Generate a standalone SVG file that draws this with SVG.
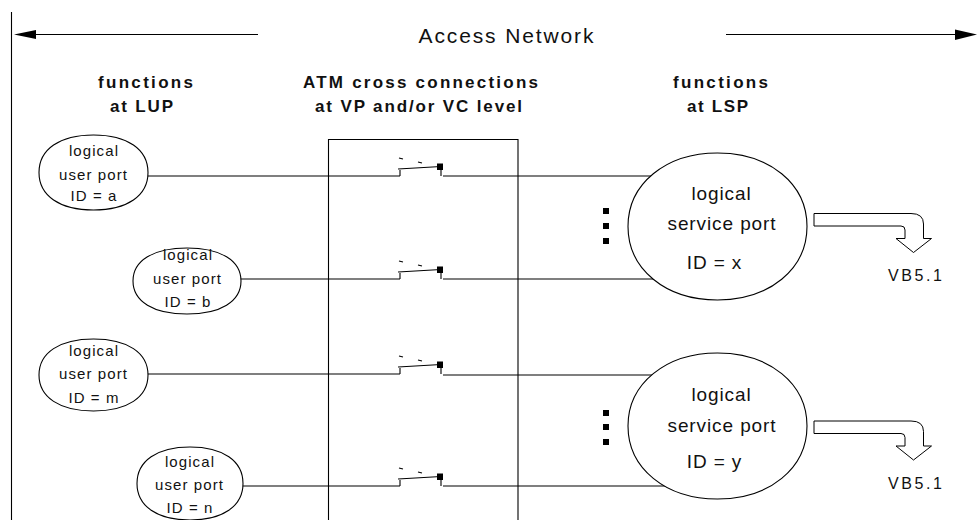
<svg xmlns="http://www.w3.org/2000/svg" xmlns:xlink="http://www.w3.org/1999/xlink" width="978" height="520" viewBox="0 0 978 520">
<style>
  .ln{stroke:#000;stroke-width:1.1;fill:none}
  .nd{fill:#fff;stroke:#000;stroke-width:1.1}
  .t{font-family:"Liberation Sans",Arial,sans-serif;fill:#111;text-anchor:middle}
  .hdr{font-weight:bold;font-size:17px}
  .up{font-size:15px;letter-spacing:1.1px}
  .sp{font-size:19px;letter-spacing:0.9px}
  .big{font-size:21px}
  .vb{font-size:16px}
  .arr{fill:#fff;stroke:#000;stroke-width:1}
</style>
<defs>
  <g id="sw">
    <path class="ln" d="M0,0 V-6 M-2,-7 L41,-9.5 M41,-6 V0" stroke-width="1.2"/>
    <rect x="37" y="-12.5" width="6" height="6.5" fill="#000"/>
    <path class="ln" d="M-1,-18 l4,1 M18,-14 l4,1" stroke-width="1"/>
  </g>
  <path id="hollow" d="M814,213.5 H911 Q923.5,213.5 923.5,224 V238.5 H931.5 L913.5,252.5 L896,238.5 H905 V230 Q905,226 901,226 H814 Z"/>
</defs>

<g id="frame">
  <line class="ln" x1="11.5" y1="12" x2="11.5" y2="520"/>
  <line class="ln" x1="30" y1="34.5" x2="258" y2="34.5"/>
  <polygon points="14,34.5 36,30 36,39" fill="#000"/>
  <line class="ln" x1="726" y1="34.5" x2="958" y2="34.5"/>
  <polygon points="977,34.5 955,29.5 955,40" fill="#000"/>
  <text class="t big" x="506" y="43" textLength="175" lengthAdjust="spacing">Access Network</text>
  <text class="t hdr" x="145.5" y="88" textLength="95" lengthAdjust="spacing">functions</text>
  <text class="t hdr" x="141.5" y="112" textLength="63" lengthAdjust="spacing">at LUP</text>
  <text class="t hdr" x="420.5" y="88" textLength="235" lengthAdjust="spacing">ATM cross connections</text>
  <text class="t hdr" x="418.5" y="112" textLength="207" lengthAdjust="spacing">at VP and/or VC level</text>
  <text class="t hdr" x="720.5" y="88" textLength="95" lengthAdjust="spacing">functions</text>
  <text class="t hdr" x="717.5" y="112" textLength="61" lengthAdjust="spacing">at LSP</text>
</g>

<g id="atm-box">
  <path class="ln" d="M328.5,521 V139.5 H518 V521"/>
</g>

<g id="connectors">
  <path class="ln" d="M120,176 H400 M210,279 H400 M120,374 H400 M215,486 H400"/>
  <path class="ln" d="M443,176 H700 M443,279 H700 M443,375 H700 M443,486 H700"/>
</g>

<g id="switches">
  <use xlink:href="#sw" href="#sw" transform="translate(400,176)"/>
  <use xlink:href="#sw" href="#sw" transform="translate(400,279)"/>
  <use xlink:href="#sw" href="#sw" transform="translate(400,374)"/>
  <use xlink:href="#sw" href="#sw" transform="translate(400,486)"/>
</g>

<g id="lup-a">
  <path class="nd" d="M39,172.5 C39,149.25 59.7,135 93.5,135 C127.3,135 148,149.25 148,172.5 C148,195.75 127.3,210 93.5,210 C59.7,210 39,195.75 39,172.5 Z"/>
  <text class="t up" x="94" y="156">logical</text>
  <text class="t up" x="93.5" y="180">user port</text>
  <text class="t up" x="94" y="201">ID = a</text>
</g>
<g id="lup-b">
  <path class="nd" d="M133,281 C133,260.5 153.5,248 187,248 C220.5,248 241,260.5 241,281 C241,301.5 220.5,314 187,314 C153.5,314 133,301.5 133,281 Z"/>
  <text class="t up" x="188" y="260">logical</text>
  <text class="t up" x="187.5" y="284">user port</text>
  <text class="t up" x="188" y="307">ID = b</text>
</g>
<g id="lup-m">
  <path class="nd" d="M39,375 C39,352.7 59.7,339 93.5,339 C127.3,339 148,352.7 148,375 C148,397.3 127.3,411 93.5,411 C59.7,411 39,397.3 39,375 Z"/>
  <text class="t up" x="94" y="356">logical</text>
  <text class="t up" x="93.5" y="379">user port</text>
  <text class="t up" x="94" y="403">ID = m</text>
</g>
<g id="lup-n">
  <path class="nd" d="M137,483.5 C137,460.9 157.1,447 190,447 C222.9,447 243,460.9 243,483.5 C243,506.1 222.9,520 190,520 C157.1,520 137,506.1 137,483.5 Z"/>
  <text class="t up" x="190" y="467">logical</text>
  <text class="t up" x="189.5" y="490">user port</text>
  <text class="t up" x="190" y="513">ID = n</text>
</g>

<g id="lsp-x">
  <path class="nd" d="M628,226.5 C628,183.9 665.6,153 717.5,153 C769.4,153 807,183.9 807,226.5 C807,269.1 769.4,300 717.5,300 C665.6,300 628,269.1 628,226.5 Z"/>
  <text class="t sp" x="721.5" y="200">logical</text>
  <text class="t sp" x="722" y="230">service port</text>
  <text class="t sp" x="714.5" y="269">ID = x</text>
  <rect x="603" y="208" width="6" height="6" fill="#000"/>
  <rect x="603" y="223" width="6" height="6" fill="#000"/>
  <rect x="603" y="238" width="6" height="6" fill="#000"/>
  <use xlink:href="#hollow" href="#hollow" class="arr"/>
  <text class="t vb" x="915" y="281" textLength="54" lengthAdjust="spacing">VB5.1</text>
</g>
<g id="lsp-y">
  <path class="nd" d="M628,426 C628,383.7 665.6,353 717.5,353 C769.4,353 807,383.7 807,426 C807,468.3 769.4,499 717.5,499 C665.6,499 628,468.3 628,426 Z"/>
  <text class="t sp" x="721.5" y="401">logical</text>
  <text class="t sp" x="722" y="432">service port</text>
  <text class="t sp" x="714.5" y="468">ID = y</text>
  <rect x="603" y="410" width="6" height="6" fill="#000"/>
  <rect x="603" y="424" width="6" height="6" fill="#000"/>
  <rect x="603" y="439" width="6" height="6" fill="#000"/>
  <use xlink:href="#hollow" href="#hollow" class="arr" transform="translate(0,207.5)"/>
  <text class="t vb" x="915" y="489" textLength="54" lengthAdjust="spacing">VB5.1</text>
</g>
</svg>
